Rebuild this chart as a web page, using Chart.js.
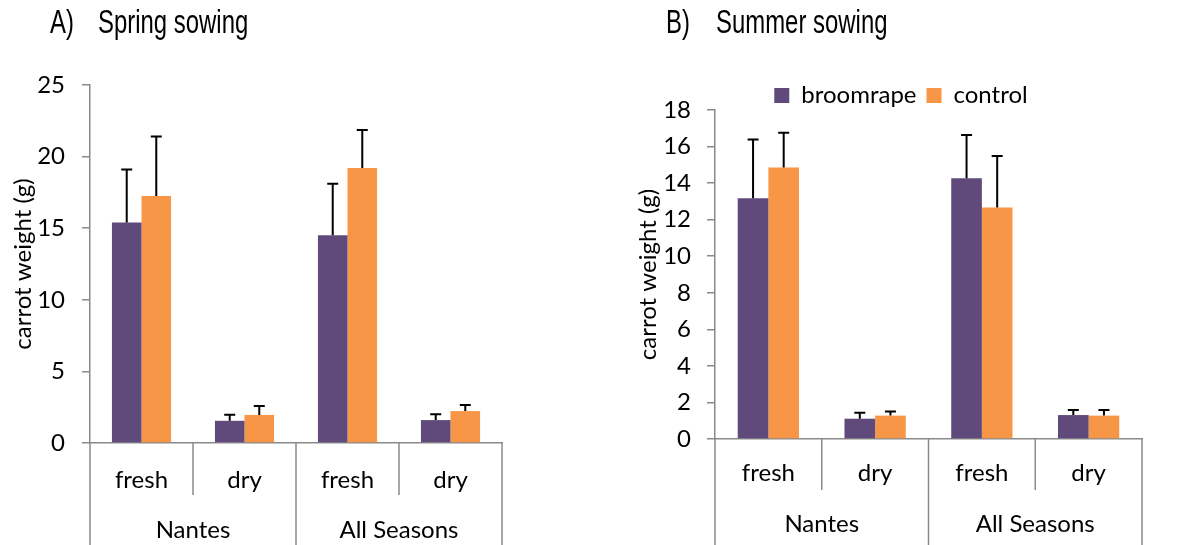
<!DOCTYPE html>
<html>
<head>
<meta charset="utf-8">
<script src="https://cdn.jsdelivr.net/npm/chart.js"></script>
<style>
    body { margin: 0; background: #fff; width: 1181px; height: 545px; overflow: hidden; position: relative; }
    canvas { position: absolute; top: 0; }
    .title { position: absolute; top: 3px; font-family: "Liberation Sans", Arial, sans-serif; font-size: 33px; color: #000;
             transform-origin: left top; transform: scaleX(0.725); white-space: nowrap; z-index: 2; }
</style>
</head>
<body>
<canvas id="springChart" width="560" height="545" style="left:0"></canvas>
<canvas id="summerChart" width="561" height="545" style="left:620px"></canvas>
<div class="title" style="left:50px">A)</div>
<div class="title" style="left:98px">Spring sowing</div>
<div class="title" style="left:666px">B)</div>
<div class="title" style="left:716px">Summer sowing</div>
<script>
// 범주
const subCategories = ['fresh', 'dry', 'fresh', 'dry'];
const groupLabels = ['Nantes', 'All Seasons'];
const seriesNames = ['broomrape', 'control'];
const seriesColors = ['#604A7B', '#F79646'];

// A) 봄 파종
const springBroomrape = [15.4, 1.55, 14.5, 1.6];
const springBroomrapeErr = [3.7, 0.42, 3.6, 0.4];
const springControl = [17.25, 1.96, 19.2, 2.23];
const springControlErr = [4.15, 0.62, 2.65, 0.42];
const springTicks = [0, 5, 10, 15, 20, 25];

// B) 여름 파종
const summerBroomrape = [13.17, 1.11, 14.26, 1.31];
const summerBroomrapeErr = [3.22, 0.33, 2.37, 0.28];
const summerControl = [14.86, 1.28, 12.67, 1.28];
const summerControlErr = [1.9, 0.22, 2.81, 0.31];
const summerTicks = [0, 2, 4, 6, 8, 10, 12, 14, 16, 18];

const axisColor = '#8a8a8a';
const fontFamily = 'Lato, "Open Sans", sans-serif';
const fontSize = 24;

// 오차막대 (위쪽만)
const errorBarPlugin = {
    id: 'errorBars',
    afterDatasetsDraw(chart) {
        let ctx = chart.ctx;
        let yScale = chart.scales.y;
        ctx.save();
        ctx.strokeStyle = '#000';
        ctx.lineWidth = 2;
        chart.data.datasets.forEach(function(ds, di) {
            let meta = chart.getDatasetMeta(di);
            meta.data.forEach(function(bar, i) {
                let top = yScale.getPixelForValue(ds.data[i] + ds.errors[i]);
                ctx.beginPath();
                ctx.moveTo(bar.x, bar.y);
                ctx.lineTo(bar.x, top);
                ctx.moveTo(bar.x - 5.5, top);
                ctx.lineTo(bar.x + 5.5, top);
                ctx.stroke();
            });
        });
        ctx.restore();
    }
};

// 2단 x축 라벨 (fresh/dry + 품종)
const groupAxisPlugin = {
    id: 'groupAxis',
    afterDraw(chart, args, opts) {
        let ctx = chart.ctx;
        let x = chart.scales.x;
        let n = subCategories.length;
        let step = (x.right - x.left) / n;
        let y0 = chart.chartArea.bottom;
        ctx.save();
        ctx.strokeStyle = axisColor;
        ctx.lineWidth = 1.5;
        for (let i = 0; i <= n; i++) {
            let px = x.left + step * i;
            ctx.beginPath();
            ctx.moveTo(px, y0);
            ctx.lineTo(px, i % 2 === 0 ? chart.height : y0 + opts.minorLen);
            ctx.stroke();
        }
        ctx.fillStyle = '#000';
        ctx.font = fontSize + 'px ' + fontFamily;
        ctx.textAlign = 'center';
        ctx.textBaseline = 'alphabetic';
        subCategories.forEach(function(label, i) {
            ctx.fillText(label, x.getPixelForValue(i), y0 + opts.subY);
        });
        groupLabels.forEach(function(label, g) {
            let cx = (x.getPixelForValue(g * 2) + x.getPixelForValue(g * 2 + 1)) / 2;
            ctx.fillText(label, cx, y0 + opts.groupY);
        });
        ctx.restore();
    }
};

// 범례 높이 고정 (차트 영역 위치 맞추기)
const legendHeightPlugin = {
    id: 'legendHeight',
    afterInit(chart, args, opts) {
        if (!chart.legend || !opts.height) return;
        let fit = chart.legend.fit;
        chart.legend.fit = function() {
            fit.call(this);
            this.height = opts.height;
        };
    }
};

function makeChart(id, broomrape, broomrapeErr, control, controlErr, ticks, geo) {
    let ctx = document.getElementById(id).getContext('2d');
    return new Chart(ctx, {
        type: 'bar',
        data: {
            labels: subCategories,
            datasets: [{
                label: seriesNames[0],
                data: broomrape,
                errors: broomrapeErr,
                backgroundColor: seriesColors[0]
            }, {
                label: seriesNames[1],
                data: control,
                errors: controlErr,
                backgroundColor: seriesColors[1]
            }]
        },
        options: {
            responsive: false,
            animation: false,
            devicePixelRatio: 1,
            layout: { padding: { left: geo.left, top: geo.top, right: geo.right, bottom: 0 } },
            datasets: { bar: { categoryPercentage: 0.574, barPercentage: 1 } },
            plugins: {
                legend: {
                    display: geo.legend,
                    labels: {
                        color: '#000',
                        font: { family: fontFamily, size: fontSize },
                        boxWidth: 15,
                        boxHeight: 15,
                        padding: 10
                    }
                },
                tooltip: { enabled: false },
                legendHeight: { height: geo.legendH },
                groupAxis: { minorLen: geo.minorLen, subY: geo.subY, groupY: geo.groupY }
            },
            scales: {
                x: {
                    ticks: { display: false },
                    grid: { display: false },
                    border: { display: true, color: axisColor, width: 1.5 },
                    afterFit: function(scale) { scale.height = geo.bottomH; }
                },
                y: {
                    min: ticks[0],
                    max: ticks[ticks.length - 1],
                    afterBuildTicks: function(scale) {
                        scale.ticks = ticks.map(function(v) { return { value: v }; });
                    },
                    afterFit: function(scale) { scale.width = geo.axisW; },
                    ticks: {
                        color: '#000',
                        padding: geo.tickPad,
                        font: { family: fontFamily, size: fontSize }
                    },
                    grid: { drawOnChartArea: false, tickLength: 8, color: axisColor, lineWidth: 1.5 },
                    border: { display: true, color: axisColor, width: 1.5 },
                    title: {
                        display: true,
                        text: 'carrot weight (g)',
                        color: '#000',
                        padding: { top: geo.titlePad, bottom: 0 },
                        font: { family: fontFamily, size: fontSize }
                    }
                }
            }
        },
        plugins: [errorBarPlugin, groupAxisPlugin, legendHeightPlugin]
    });
}

makeChart('springChart', springBroomrape, springBroomrapeErr, springControl, springControlErr, springTicks,
    { left: 0, top: 85, right: 58, bottomH: 102, axisW: 90, tickPad: 17, titlePad: 8.6, legend: false, legendH: 0,
      minorLen: 52, subY: 44.5, groupY: 95 });

makeChart('summerChart', summerBroomrape, summerBroomrapeErr, summerControl, summerControlErr, summerTicks,
    { left: 40, top: 73.5, right: 39, bottomH: 106, axisW: 55, tickPad: 16, titlePad: -26.4, legend: true, legendH: 36.5,
      minorLen: 51, subY: 42, groupY: 93 });
</script>
</body>
</html>
